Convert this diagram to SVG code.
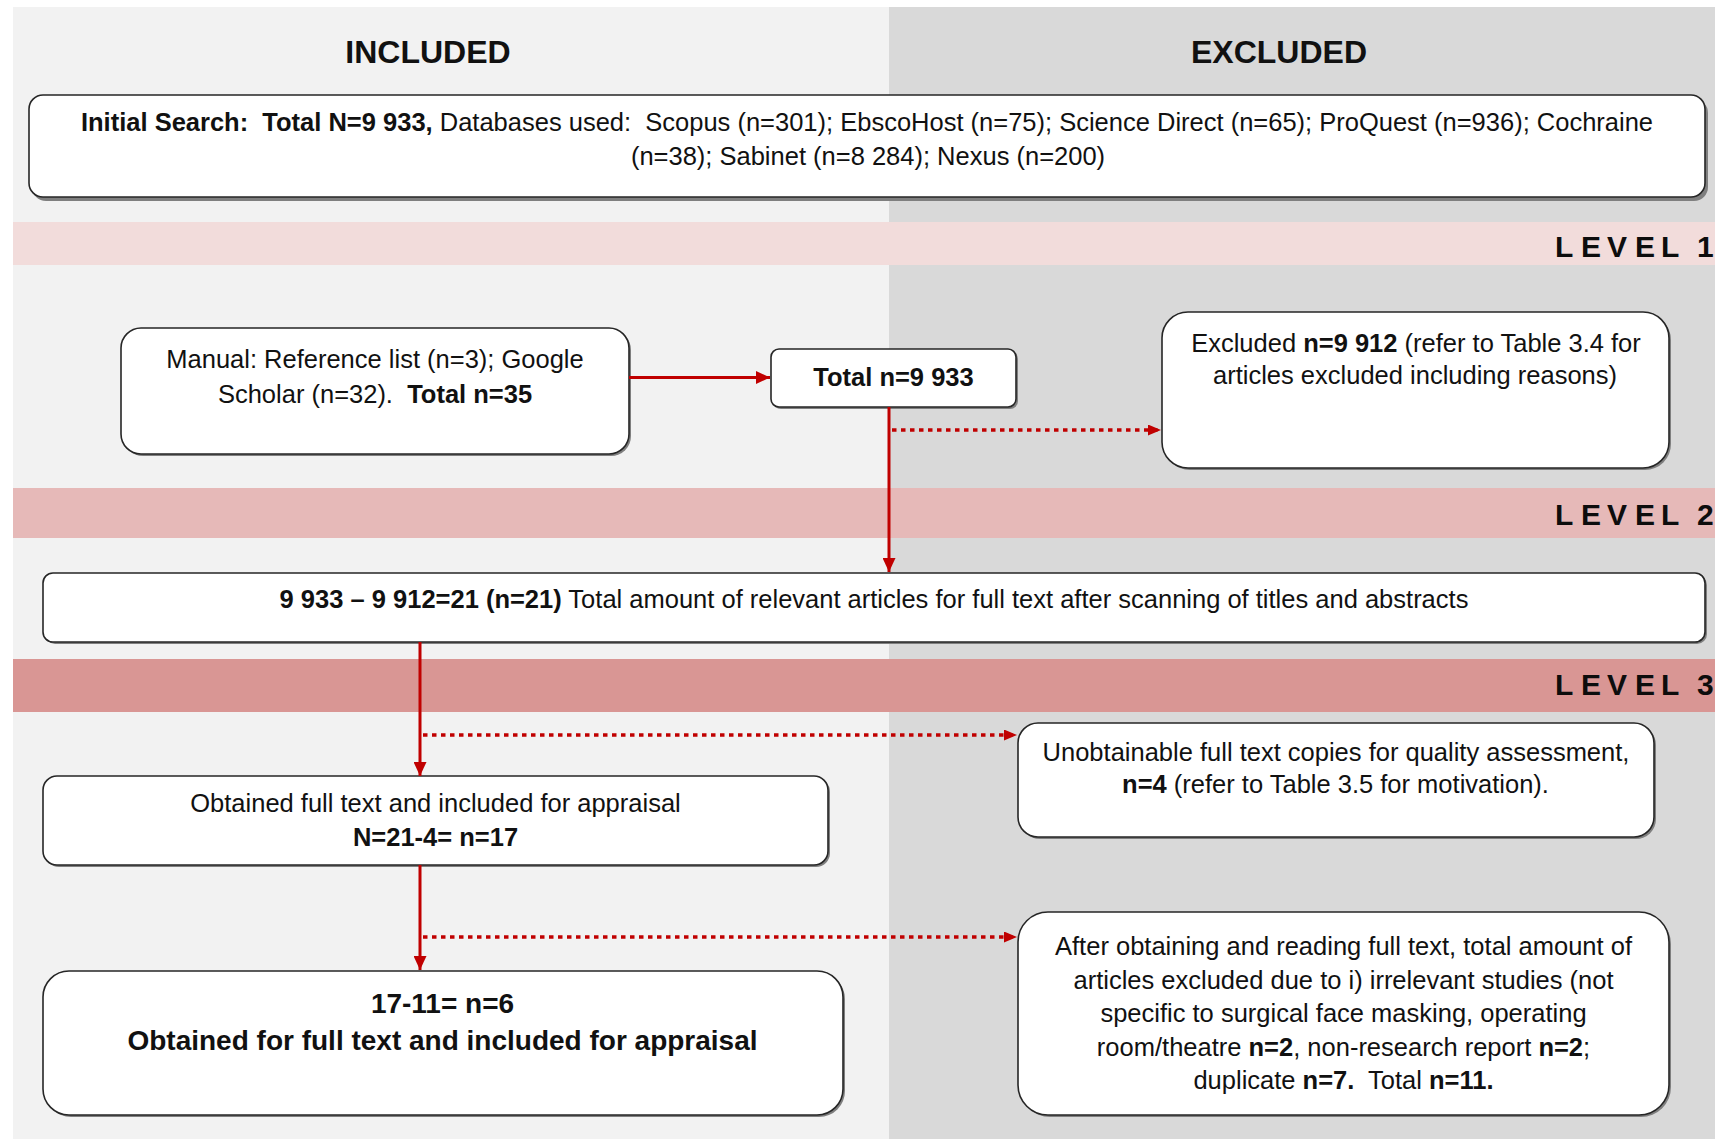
<svg xmlns="http://www.w3.org/2000/svg" width="1715" height="1139" viewBox="0 0 1715 1139">
<style>
text{font-family:"Liberation Sans",Arial,sans-serif;fill:#111;white-space:pre}
.b{font-weight:bold}
.t{font-size:25.5px;text-anchor:middle}
.t28{font-size:28px;text-anchor:middle;font-weight:bold}
.hdr{font-size:32px;font-weight:bold;text-anchor:middle}
.lvl{font-size:30px;font-weight:bold;fill:#0d0d0d}
.box{fill:#fff;stroke:#262626;stroke-width:1.6}
.sh{fill:#7f7f7f}
.solid{stroke:#c00000;stroke-width:3;fill:none}
.dot{stroke:#c00000;stroke-width:3.5;fill:none;stroke-dasharray:4.5 4.5}
</style>
<defs>
<marker id="ah" markerUnits="userSpaceOnUse" markerWidth="15" markerHeight="13" refX="14" refY="6.5" orient="auto"><path d="M0,0 L14,6.5 L0,13 z" fill="#c00000"/></marker>
<marker id="ahd" markerUnits="userSpaceOnUse" markerWidth="14" markerHeight="12" refX="13" refY="5.5" orient="auto"><path d="M0,0 L13,5.5 L0,11 z" fill="#c00000"/></marker>
</defs>
<rect width="1715" height="1139" fill="#fff"/>
<rect x="13" y="7" width="876" height="1132" fill="#f2f2f2"/>
<rect x="889" y="7" width="826" height="1132" fill="#d9d9d9"/>
<rect x="13" y="222" width="1702" height="43" fill="#f2dcdb"/>
<rect x="13" y="488" width="1702" height="50" fill="#e6b9b8"/>
<rect x="13" y="659" width="1702" height="53" fill="#d99694"/>
<g id="headers">
<text class="hdr" x="428" y="63">INCLUDED</text>
<text class="hdr" x="1279" y="63">EXCLUDED</text>
</g>
<g id="levels">
<text class="lvl" x="1555 1581 1607 1635 1661 1678 1697" y="257">LEVEL 1</text>
<text class="lvl" x="1555 1581 1607 1635 1661 1678 1697" y="525">LEVEL 2</text>
<text class="lvl" x="1555 1581 1607 1635 1661 1678 1697" y="695">LEVEL 3</text>
</g>
<g id="initial">
<rect class="sh" x="32" y="99" width="1676" height="102" rx="14"/>
<rect class="box" x="29" y="95" width="1676" height="102" rx="14"/>
<text class="t" x="867" y="131"><tspan class="b">Initial Search:  Total N=9 933,</tspan> Databases used:  Scopus (n=301); EbscoHost (n=75); Science Direct (n=65); ProQuest (n=936); Cochraine</text>
<text class="t" x="868" y="165">(n=38); Sabinet (n=8 284); Nexus (n=200)</text>
</g>
<g id="manual">
<rect class="sh" x="123" y="330" width="508" height="126" rx="20"/>
<rect class="box" x="121" y="328" width="508" height="126" rx="20"/>
<text class="t" x="375" y="368">Manual: Reference list (n=3); Google</text>
<text class="t" x="375" y="403">Scholar (n=32).  <tspan class="b">Total n=35</tspan></text>
</g>
<g id="total">
<rect class="sh" x="773" y="351" width="245" height="58" rx="8"/>
<rect class="box" x="771" y="349" width="245" height="58" rx="8"/>
<text class="t b" x="893.5" y="386">Total n=9 933</text>
</g>
<g id="excluded1">
<rect class="sh" x="1164" y="314" width="507" height="156" rx="26"/>
<rect class="box" x="1162" y="312" width="507" height="156" rx="26"/>
<text class="t" x="1416" y="352">Excluded <tspan class="b">n=9 912</tspan> (refer to Table 3.4 for</text>
<text class="t" x="1415" y="384">articles excluded including reasons)</text>
</g>
<g id="relevant">
<rect class="sh" x="45" y="575" width="1662" height="69" rx="10"/>
<rect class="box" x="43" y="573" width="1662" height="69" rx="10"/>
<text class="t" x="874" y="608"><tspan class="b">9 933 – 9 912=21 (n=21)</tspan> Total amount of relevant articles for full text after scanning of titles and abstracts</text>
</g>
<g id="unobtainable">
<rect class="sh" x="1020" y="725" width="636" height="114" rx="20"/>
<rect class="box" x="1018" y="723" width="636" height="114" rx="20"/>
<text class="t" x="1336" y="761">Unobtainable full text copies for quality assessment,</text>
<text class="t" x="1335.5" y="793"><tspan class="b">n=4</tspan> (refer to Table 3.5 for motivation).</text>
</g>
<g id="obtained">
<rect class="sh" x="45" y="778" width="785" height="89" rx="14"/>
<rect class="box" x="43" y="776" width="785" height="89" rx="14"/>
<text class="t" x="435.5" y="812">Obtained full text and included for appraisal</text>
<text class="t b" x="435.5" y="846">N=21-4= n=17</text>
</g>
<g id="final">
<rect class="sh" x="45" y="973" width="800" height="144" rx="26"/>
<rect class="box" x="43" y="971" width="800" height="144" rx="26"/>
<text class="t28" x="442.5" y="1013">17-11= n=6</text>
<text class="t28" x="442.5" y="1050">Obtained for full text and included for appraisal</text>
</g>
<g id="excluded2">
<rect class="sh" x="1020" y="914" width="651" height="203" rx="30"/>
<rect class="box" x="1018" y="912" width="651" height="203" rx="30"/>
<text class="t" x="1343.5" y="955">After obtaining and reading full text, total amount of</text>
<text class="t" x="1343.5" y="988.5">articles excluded due to i) irrelevant studies (not</text>
<text class="t" x="1343.5" y="1022">specific to surgical face masking, operating</text>
<text class="t" x="1343.5" y="1055.5">room/theatre <tspan class="b">n=2</tspan>, non-research report <tspan class="b">n=2</tspan>;</text>
<text class="t" x="1343.5" y="1089">duplicate <tspan class="b">n=7.</tspan>  Total <tspan class="b">n=11.</tspan></text>
</g>
<g id="connectors">
<path class="solid" d="M629,377.5 H770" stroke-width="3.5" marker-end="url(#ah)"/>
<path class="solid" d="M889,407 V572" marker-end="url(#ah)"/>
<path class="dot" d="M892,430 H1161" marker-end="url(#ahd)"/>
<path class="solid" d="M420,642 V776" marker-end="url(#ah)"/>
<path class="dot" d="M423,735 H1017" marker-end="url(#ahd)"/>
<path class="solid" d="M420,865 V970" marker-end="url(#ah)"/>
<path class="dot" d="M423,937 H1017" marker-end="url(#ahd)"/>
</g>
</svg>
